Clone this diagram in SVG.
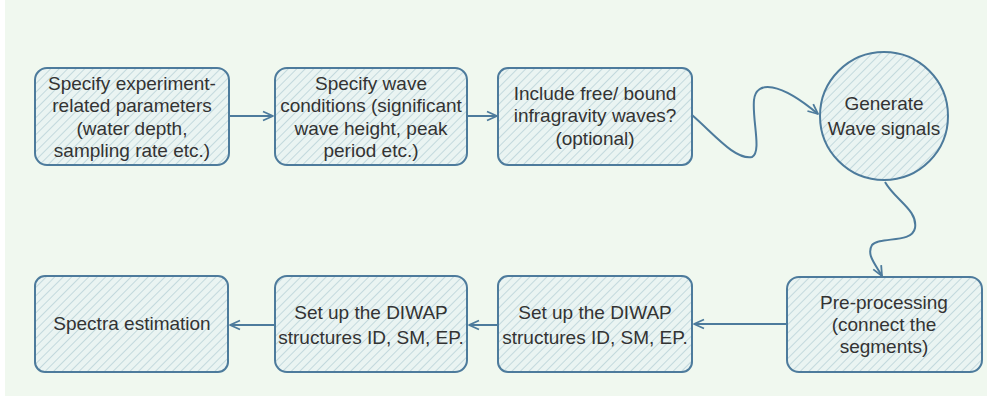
<svg xmlns="http://www.w3.org/2000/svg" width="987" height="396" viewBox="0 0 987 396">
<defs>
<pattern id="hatch" width="6" height="6" patternUnits="userSpaceOnUse" patternTransform="rotate(45)">
<rect width="6" height="6" fill="#eaf4f2"/>
<line x1="0" y1="0" x2="0" y2="6" stroke="#c3d9dd" stroke-width="2"/>
</pattern>
<marker id="arr" viewBox="0 0 12 12" refX="11" refY="6" markerWidth="12" markerHeight="12" markerUnits="userSpaceOnUse" orient="auto">
<path d="M1,1.5 L11,6 L1,10.5" fill="none" stroke="#4d7b9c" stroke-width="1.8" stroke-linejoin="round"/>
</marker>
</defs>
<style>
.box{fill:url(#hatch);stroke:#4d7b9c;stroke-width:2}
.t{font-family:"Liberation Sans",Arial,sans-serif;font-size:19px;fill:#333;text-anchor:middle}
.c{fill:none;stroke:#4d7b9c;stroke-width:2;marker-end:url(#arr)}
</style>
<rect width="987" height="396" fill="#f0f8ef"/>
<rect x="0" y="0" width="5" height="396" fill="#ffffff"/>
<g id="n1"><rect class="box" x="35" y="68" width="194" height="97" rx="12"/>
<text class="t" x="132" y="90">Specify experiment-</text><text class="t" x="132" y="112">related parameters</text><text class="t" x="132" y="135">(water depth,</text><text class="t" x="132" y="157">sampling rate etc.)</text></g>
<g id="n2"><rect class="box" x="275" y="68" width="192" height="97" rx="12"/>
<text class="t" x="371" y="90">Specify wave</text><text class="t" x="371" y="112">conditions (significant</text><text class="t" x="371" y="135">wave height, peak</text><text class="t" x="371" y="157">period etc.)</text></g>
<g id="n3"><rect class="box" x="498" y="68" width="194" height="97" rx="10"/>
<text class="t" x="595" y="100">Include free/ bound</text><text class="t" x="595" y="122">infragravity waves?</text><text class="t" x="595" y="145">(optional)</text></g>
<g id="n4"><circle class="box" cx="884" cy="116" r="64"/>
<text class="t" x="884" y="110">Generate</text><text class="t" x="884" y="135">Wave signals</text></g>
<g id="n5"><rect class="box" x="787" y="277" width="195" height="95" rx="12"/>
<text class="t" x="884" y="309">Pre-processing</text><text class="t" x="884" y="331">(connect the</text><text class="t" x="884" y="353">segments)</text></g>
<g id="n6"><rect class="box" x="498" y="276" width="194" height="96" rx="10"/>
<text class="t" x="595" y="319">Set up the DIWAP</text><text class="t" x="595" y="344">structures ID, SM, EP.</text></g>
<g id="n7"><rect class="box" x="275" y="276" width="192" height="96" rx="12"/>
<text class="t" x="371" y="319">Set up the DIWAP</text><text class="t" x="371" y="344">structures ID, SM, EP.</text></g>
<g id="n8"><rect class="box" x="35" y="276" width="193" height="96" rx="10"/>
<text class="t" x="132" y="330">Spectra estimation</text></g>
<g id="connectors">
<path class="c" d="M229,116 L273,116"/>
<path class="c" d="M467,116 L497,116"/>
<path class="c" d="M692,115 C715,135 735,160 752,157 C762,152 752,120 754,100 C756,80 780,82 818,114"/>
<path class="c" d="M885,182 C895,200 918,210 915,228 C912,244 880,236 872,245 C866,255 876,265 882,276"/>
<path class="c" d="M787,324 L694,324"/>
<path class="c" d="M498,325 L469,325"/>
<path class="c" d="M275,325 L230,325"/>
</g>
</svg>
